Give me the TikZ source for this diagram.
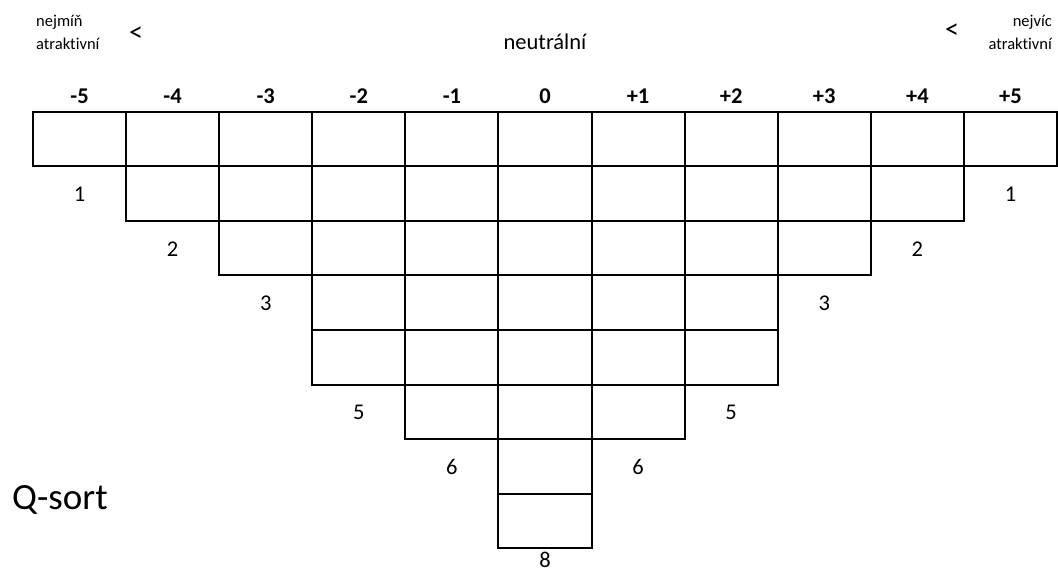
\documentclass[tikz,border=0pt]{standalone}
\usepackage{fontspec}
\setmainfont{Carlito}[Ligatures=NoCommon]
\begin{document}
\begin{tikzpicture}[x=1pt,y=-1pt,
  cell/.style={draw, line width=2pt, minimum width=93.09pt, minimum height=54.5pt, inner sep=0pt, outer sep=0pt},
  lbl/.style={font=\fontsize{22.5}{26}\selectfont, inner sep=0pt, anchor=base},
  hdr/.style={font=\fontsize{22.5}{26}\selectfont\bfseries, inner sep=0pt, anchor=base},
  small/.style={font=\fontsize{16.5}{20}\selectfont, inner sep=0pt},
  lt/.style={font=\fontsize{28}{30}\selectfont, inner sep=0pt},
  big/.style={font=\fontsize{37}{42}\selectfont, inner sep=0pt, anchor=base west}]
\useasboundingbox (0,0) rectangle (1058,572);
% grid of cells
\foreach \c/\n/\h [count=\i from 0] in {m5/1/-5,m4/2/-4,m3/3/-3,m2/5/-2,m1/6/-1,z/8/0,p1/6/+1,p2/5/+2,p3/3/+3,p4/2/+4,p5/1/+5} {
  \pgfmathsetmacro\cx{33+93.09*(\i+0.5)}
  \foreach \r in {1,...,\n} {
    \node[cell] (c\c-\r) at (\cx, {112+54.5*(\r-0.5)}) {};
  }
  \node[hdr] (h\c) at (\cx, 104) {\h};
}
% count labels under columns
\foreach \c/\n/\i in {m5/1/0,m4/2/1,m3/3/2,m2/5/3,m1/6/4,p1/6/6,p2/5/7,p3/3/8,p4/2/9,p5/1/10} {
  \pgfmathsetmacro\cx{33+93.09*(\i+0.5)}
  \node[lbl] (l\c) at (\cx, {112+54.5*(\n+0.5)+8}) {\n};
}
\node[lbl] (lz) at (545, 567) {8};
% top texts
\node[small, anchor=base west] (lt1) at (36, 27) {nejmíň};
\node[small, anchor=base west] (lt2) at (36, 50) {atraktivní};
\node[lt] (ltl) at (136, 34) {<};
\node[lbl] (neu) at (545, 50) {neutrální};
\node[small, anchor=base east] (rt1) at (1052, 27) {nejvíc};
\node[small, anchor=base east] (rt2) at (1052, 50) {atraktivní};
\node[lt] (rtl) at (952, 31) {<};
% title
\node[big] (q) at (12, 509) {Q-sort};
\end{tikzpicture}
\end{document}
